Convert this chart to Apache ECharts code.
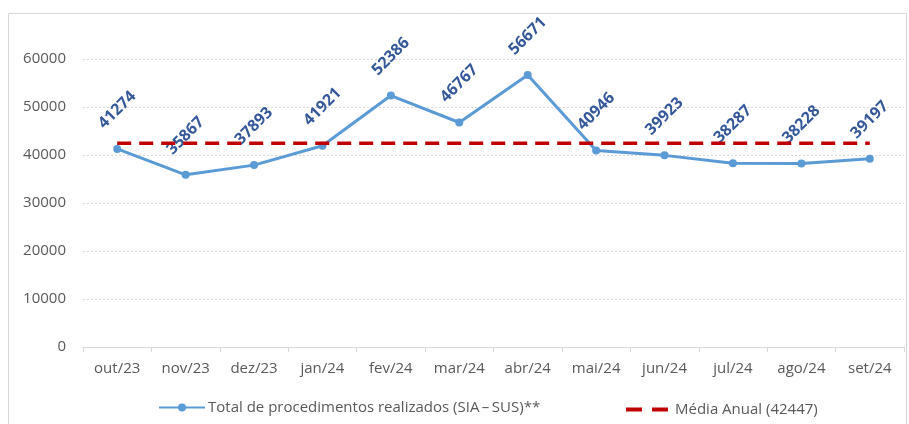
<!DOCTYPE html>
<html>
<head>
<meta charset="utf-8">
<script src="https://cdn.jsdelivr.net/npm/echarts@6/dist/echarts.min.js"></script>
<style>
  html, body { margin: 0; padding: 0; background: #fff; }
  #chart { width: 909px; height: 424px; }
</style>
</head>
<body>
<div id="chart"></div>
<script>
const months = ['out/23', 'nov/23', 'dez/23', 'jan/24', 'fev/24', 'mar/24', 'abr/24', 'mai/24', 'jun/24', 'jul/24', 'ago/24', 'set/24'];
const procedimentos = [41274, 35867, 37893, 41921, 52386, 46767, 56671, 40946, 39923, 38287, 38228, 39197];
const mediaAnual = [42447, 42447, 42447, 42447, 42447, 42447, 42447, 42447, 42447, 42447, 42447, 42447];
const yTicks = [0, 10000, 20000, 30000, 40000, 50000, 60000];

const serieNome = 'Total de procedimentos realizados (SIA\u2009\u2013\u2009SUS)**';
const mediaNome = 'Média Anual (42447)';
const font = '"Open Sans", sans-serif';
const gray = '#595959';

const chart = echarts.init(document.getElementById('chart'));

chart.setOption({
  animation: false,
  textStyle: { fontFamily: font },
  graphic: [
    {
      type: 'rect',
      shape: { x: 8.5, y: 13.5, width: 898, height: 420 },
      style: { fill: 'none', stroke: '#D9D9D9', lineWidth: 1 },
      silent: true,
    },
  ],
  grid: { left: 83, right: 5, top: 59, bottom: 77 },
  legend: [
    {
      data: [serieNome],
      left: 153,
      top: 395,
      itemWidth: 46,
      itemHeight: 10,
      textStyle: { color: gray, fontSize: 15, fontFamily: font, padding: [0, 0, 0, -2] },
    },
    {
      data: [{ name: mediaNome, icon: 'path://M0,0h16v4h-16z M26,0h16v4h-16z' }],
      left: 621,
      top: 397,
      itemWidth: 42,
      itemHeight: 4,
      textStyle: { color: gray, fontSize: 15, fontFamily: font, padding: [0, 0, 0, 2] },
    },
  ],
  xAxis: {
    type: 'category',
    data: months,
    axisLine: { lineStyle: { color: '#D9D9D9', width: 1 } },
    axisTick: { show: true, length: 5, lineStyle: { color: '#D9D9D9' } },
    axisLabel: { color: gray, fontSize: 15, margin: 14 },
  },
  yAxis: {
    type: 'value',
    min: yTicks[0],
    max: yTicks[yTicks.length - 1],
    interval: 10000,
    axisLine: { show: false },
    axisTick: { show: false },
    axisLabel: { color: gray, fontSize: 15, margin: 17, formatter: (v) => String(v) },
    splitLine: { lineStyle: { color: '#D9D9D9', type: [2, 2] } },
  },
  series: [
    {
      name: mediaNome,
      type: 'line',
      data: mediaAnual,
      symbol: 'none',
      lineStyle: { color: '#C00000', width: 3.5, type: [14, 8] },
      itemStyle: { color: '#C00000' },
      z: 3,
    },
    {
      name: serieNome,
      type: 'line',
      data: procedimentos,
      symbol: 'circle',
      symbolSize: 8,
      lineStyle: { color: '#5B9BD5', width: 3 },
      itemStyle: { color: '#5B9BD5' },
      label: {
        show: true,
        position: 'top',
        distance: 35,
        rotate: 45,
        align: 'center',
        verticalAlign: 'middle',
        color: '#34589A',
        fontWeight: 'bold',
        fontSize: 16,
        fontFamily: font,
      },
      z: 2,
    },
  ],
});
</script>
</body>
</html>
